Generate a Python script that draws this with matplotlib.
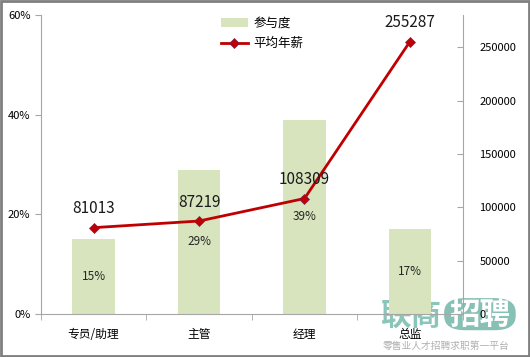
import matplotlib
matplotlib.use("Agg")
import matplotlib.pyplot as plt
from matplotlib.patches import Rectangle, FancyBboxPatch
from matplotlib.ticker import FuncFormatter

plt.rcParams['font.family'] = ['Noto Sans CJK SC', 'DejaVu Sans']

categories = ["专员/助理", "主管", "经理", "总监"]
participation = [0.15, 0.29, 0.39, 0.17]
part_labels = ["15%", "29%", "39%", "17%"]
salary = [81013, 87219, 108309, 255287]

bar_color = "#d7e4bd"
line_color = "#c00000"
axis_color = "#a6a6a6"

fig = plt.figure(figsize=(5.30, 3.57), dpi=100)
ax = fig.add_axes([0.077, 0.12, 0.796, 0.8375])
ax.patch.set_visible(False)
x = list(range(len(categories)))

ax.bar(x, participation, width=0.4, color=bar_color, label="参与度", zorder=1)
ax.set_ylim(0, 0.6)
ax.set_xlim(-0.5, len(categories) - 0.5)
ax.set_yticks([0, 0.2, 0.4, 0.6])
ax.yaxis.set_major_formatter(FuncFormatter(lambda v, p: f"{v*100:.0f}%"))
ax.set_xticks(x)
ax.set_xticklabels(categories, fontsize=8.5)
ax.set_xticks([i + 0.5 for i in range(-1, len(categories))], minor=True)
ax.tick_params(axis='x', which='major', length=0, pad=10)
ax.tick_params(axis='x', which='minor', length=4, color=axis_color)
ax.tick_params(axis='y', length=4, color=axis_color, labelsize=8)
for s in ["top", "right"]:
    ax.spines[s].set_visible(False)
for s in ["left", "bottom"]:
    ax.spines[s].set_color(axis_color)

# bar labels in the middle of each bar
for i, (v, t) in enumerate(zip(participation, part_labels)):
    ax.text(i, v / 2, t, ha="center", va="center", fontsize=8.5, color="#262626", zorder=4)

ax2 = ax.twinx()
ax2.patch.set_visible(False)
ax2.plot(x, salary, color=line_color, lw=2, marker="D", ms=5,
         markerfacecolor=line_color, markeredgecolor="#7f1d5a", markeredgewidth=0.5,
         label="平均年薪", zorder=3)
ax2.set_ylim(0, 280000)
ax2.set_yticks(range(0, 250001, 50000))
ax2.tick_params(axis='y', direction='in', length=4, color=axis_color, labelsize=8, pad=12)
for s in ["top", "left", "bottom"]:
    ax2.spines[s].set_visible(False)
ax2.spines["right"].set_color(axis_color)
for i, v in enumerate(salary):
    ax2.annotate(str(v), (i, v), xytext=(0, 13.5), textcoords="offset points",
                 ha="center", va="center", fontsize=11, color="#1a1a1a")

h1, l1 = ax.get_legend_handles_labels()
h2, l2 = ax2.get_legend_handles_labels()
fig.legend(h1 + h2, l1 + l2, loc="upper left", bbox_to_anchor=(0.395, 0.985),
           frameon=False, fontsize=9, handlelength=2.2, handletextpad=0.4, labelspacing=0.6)

# watermark (drawn under the axes so tick labels stay visible)
fig.text(0.775, 0.115, "联商", fontsize=22, color="#7fbfb3", ha="center", va="center",
         fontweight="bold", alpha=0.9, zorder=-1)
fig.patches.append(FancyBboxPatch((0.838, 0.075), 0.135, 0.09, boxstyle="round,pad=0.0,rounding_size=0.04",
                                  transform=fig.transFigure, facecolor="#7ab9ad", edgecolor="none",
                                  alpha=0.9, zorder=-2))
fig.text(0.905, 0.118, "招聘", fontsize=22, color="white", ha="center", va="center",
         fontweight="bold", zorder=-1)
fig.text(0.842, 0.031, "零售业人才招聘求职第一平台", fontsize=7, color="#b0b0b0", ha="center", va="center")

fig.patches.append(Rectangle((0.002, 0.003), 0.996, 0.994, transform=fig.transFigure,
                             fill=False, edgecolor="#7f7f7f", lw=2))

fig.savefig("out.png", dpi=100)
